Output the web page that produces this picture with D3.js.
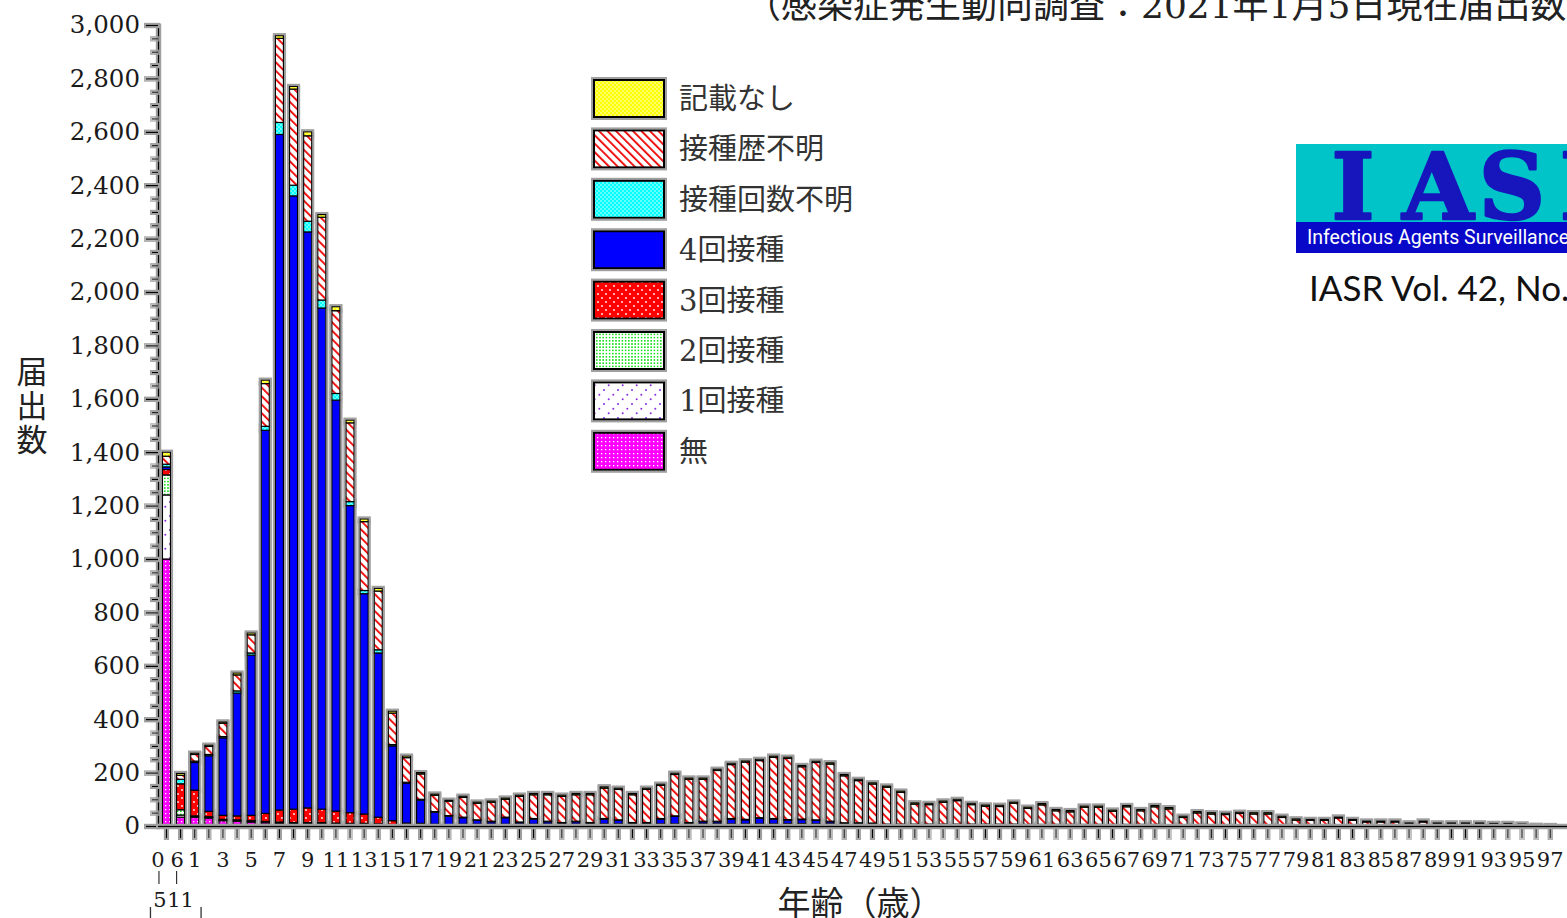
<!DOCTYPE html>
<html>
<head>
<meta charset="utf-8">
<script src="https://cdn.jsdelivr.net/npm/d3@7"></script>
<style>
  html, body { margin: 0; padding: 0; background: #fff; overflow: hidden; }
  svg { display: block; }
</style>
</head>
<body>
<svg id="chart" width="1567" height="918"></svg>
<script>
// ---- categories: 0-5 months, 6-11 months, then ages 1..97 ----
const monthGroups = ["0-5", "6-11"];
const yearGroups = d3.range(1, 98).map(String);
const categories = monthGroups.concat(yearGroups);

// ---- series values (cases), order: 0-5m, 6-11m, age 1 .. age 97 ----
const noVaccine = [1000, 33,
  33, 30, 20, 18, 15, 12, 10, 8, 8, 8, 6, 5, 5, 5, 3, 2, 2, 1, 1,
  2, 2, 2, 2, 2, 2, 2, 2, 2, 2,
  3, 3, 3, 3, 3, 3, 3, 3, 3, 3,
  3, 3, 3, 4, 4, 3, 3, 3, 3, 3,
  2, 2, 2, 2, 2, 2, 2, 2, 2, 2,
  2, 2, 2, 2, 2, 2, 2, 2, 2, 2,
  1, 1, 1, 1, 1, 1, 1, 1, 1, 1,
  1, 1, 1, 1, 1, 1, 1, 1, 1, 1,
  1, 1, 1, 1, 0, 0, 0, 0];

const oneDose = [240, 8,
  2, 2, 2, 2, 2, 2, 2, 2, 2, 2, 2, 2, 2, 1, 1, 0, 0, 0, 0,
  0, 0, 0, 0, 0, 0, 0, 0, 0, 0,
  0, 0, 0, 0, 0, 0, 0, 0, 0, 0,
  0, 0, 0, 0, 0, 0, 0, 0, 0, 0,
  0, 0, 0, 0, 0, 0, 0, 0, 0, 0,
  0, 0, 0, 0, 0, 0, 0, 0, 0, 0,
  0, 0, 0, 0, 0, 0, 0, 0, 0, 0,
  0, 0, 0, 0, 0, 0, 0, 0, 0, 0,
  0, 0, 0, 0, 0, 0, 0, 0];

const twoDoses = [75, 20,
  3, 3, 3, 3, 3, 3, 3, 3, 3, 3, 3, 3, 3, 2, 1, 1, 1, 1, 0,
  1, 1, 1, 1, 1, 1, 1, 1, 1, 1,
  1, 1, 1, 1, 1, 1, 1, 1, 1, 1,
  1, 1, 1, 1, 1, 1, 1, 1, 1, 1,
  1, 1, 1, 1, 1, 1, 1, 1, 1, 1,
  0, 0, 0, 0, 0, 0, 0, 0, 0, 0,
  0, 0, 0, 0, 0, 0, 0, 0, 0, 0,
  0, 0, 0, 0, 0, 0, 0, 0, 0, 0,
  0, 0, 0, 0, 0, 0, 0, 0];

const threeDoses = [20, 97,
  96, 20, 15, 15, 20, 30, 45, 50, 55, 50, 45, 40, 35, 25, 15, 8, 7, 5, 4,
  4, 4, 4, 4, 4, 4, 4, 4, 4, 4,
  4, 4, 4, 4, 4, 4, 4, 4, 4, 4,
  4, 4, 4, 4, 4, 4, 4, 4, 4, 4,
  3, 3, 3, 3, 3, 3, 3, 3, 3, 3,
  3, 3, 3, 3, 3, 3, 3, 3, 3, 3,
  2, 2, 2, 2, 2, 2, 2, 2, 2, 2,
  2, 2, 2, 2, 2, 2, 2, 2, 2, 2,
  1, 1, 1, 1, 0, 0, 0, 0];

const fourDoses = [10, 0,
  104, 208, 290, 460, 600, 1435, 2530, 2297, 2157, 1877, 1539, 1150, 825, 615, 280, 150, 87, 45, 32,
  24, 14, 9, 24, 6, 19, 9, 4, 9, 4,
  18, 13, 3, 3, 18, 28, 3, 8, 8, 18,
  15, 21, 18, 13, 15, 13, 8, 2, 2, 1,
  0, 0, 0, 0, 0, 0, 0, 0, 0, 0,
  0, 0, 0, 0, 0, 0, 0, 0, 0, 0,
  0, 0, 0, 0, 0, 0, 0, 0, 0, 0,
  0, 0, 0, 0, 0, 0, 0, 0, 0, 0,
  0, 0, 0, 0, 0, 0, 0, 0];

const dosesUnknown = [10, 17,
  5, 5, 5, 8, 8, 15, 45, 40, 40, 30, 25, 15, 12, 12, 5, 3, 3, 2, 2,
  2, 2, 2, 2, 2, 2, 2, 2, 2, 2,
  2, 2, 2, 2, 2, 2, 2, 2, 2, 2,
  2, 2, 2, 2, 2, 2, 2, 2, 2, 2,
  1, 1, 1, 1, 1, 1, 1, 1, 1, 1,
  1, 1, 1, 1, 1, 1, 1, 1, 1, 1,
  1, 1, 1, 1, 1, 1, 1, 1, 1, 1,
  1, 1, 1, 1, 1, 1, 1, 1, 1, 1,
  0, 0, 0, 0, 0, 0, 0, 0];

const historyUnknown = [30, 15,
  25, 30, 50, 60, 68, 160, 315, 360, 320, 310, 310, 295, 258, 220, 118, 92, 95, 61, 54,
  74, 62, 71, 67, 96, 89, 99, 98, 99, 104,
  114, 114, 104, 124, 124, 155, 162, 157, 190, 202,
  214, 214, 229, 229, 196, 215, 214, 176, 158, 146,
  138, 119, 75, 73, 82, 88, 73, 67, 66, 78,
  60, 73, 51, 47, 64, 64, 49, 66, 51, 66,
  60, 28, 45, 41, 39, 43, 41, 41, 28, 18,
  17, 17, 26, 17, 11, 11, 11, 4, 11, 4,
  7, 7, 7, 5, 7, 5, 1, 1];

const notRecorded = [15, 7,
  5, 5, 5, 7, 7, 13, 10, 10, 15, 10, 15, 10, 10, 10, 7, 6, 5, 5, 4,
  5, 5, 5, 5, 5, 5, 5, 5, 5, 5,
  5, 5, 5, 5, 5, 5, 5, 5, 5, 5,
  5, 5, 5, 5, 5, 5, 5, 5, 5, 5,
  5, 5, 5, 5, 5, 5, 5, 5, 5, 5,
  5, 5, 5, 5, 5, 5, 5, 5, 5, 5,
  5, 5, 5, 5, 5, 5, 5, 5, 5, 5,
  4, 4, 4, 4, 4, 4, 4, 4, 4, 4,
  3, 3, 3, 3, 3, 3, 2, 1];

// stack order, bottom to top
const seriesKeys = ["無", "1回接種", "2回接種", "3回接種", "4回接種", "接種回数不明", "接種歴不明", "記載なし"];
const seriesArrays = [noVaccine, oneDose, twoDoses, threeDoses, fourDoses, dosesUnknown, historyUnknown, notRecorded];
const seriesFills = ["url(#pMu)", "url(#pOne)", "url(#pTwo)", "url(#pThree)", "#0000ff", "url(#pCount)", "url(#pHist)", "url(#pNone)"];

// y-axis ticks
const yMajorTicks = [0, 200, 400, 600, 800, 1000, 1200, 1400, 1600, 1800, 2000, 2200, 2400, 2600, 2800, 3000];

// x-axis labels (first row / second row for month groups)
const monthLabelTop = ["0", "6"];
const monthLabelBottom = ["5", "11"];

// ---------------------------------------------------------------
const svg = d3.select("#chart");
const W = 1567, H = 918;

svg.append("rect").attr("width", W).attr("height", H).attr("fill", "#fff");

const defs = svg.append("defs");

// soft grey halo drawn around marks
const halo = defs.append("filter").attr("id", "halo")
  .attr("filterUnits", "userSpaceOnUse")
  .attr("x", -300).attr("y", -900).attr("width", W + 600).attr("height", H + 1800);
halo.append("feMorphology").attr("in", "SourceAlpha").attr("operator", "dilate").attr("radius", 1.6).attr("result", "d");
halo.append("feFlood").attr("flood-color", "#a0a0a0").attr("result", "c");
halo.append("feComposite").attr("in", "c").attr("in2", "d").attr("operator", "in").attr("result", "h");
halo.append("feGaussianBlur").attr("in", "h").attr("stdDeviation", 0.6).attr("result", "hb");
const hm = halo.append("feMerge");
hm.append("feMergeNode").attr("in", "hb");
hm.append("feMergeNode").attr("in", "SourceGraphic");

function pattern(id, w, h, bg, draw, transform) {
  const p = defs.append("pattern").attr("id", id)
    .attr("patternUnits", "userSpaceOnUse").attr("width", w).attr("height", h);
  if (transform) p.attr("patternTransform", transform);
  p.append("rect").attr("width", w).attr("height", h).attr("fill", bg);
  draw(p);
}
// 無: magenta with white dot grid
pattern("pMu", 4, 4, "#ff00ff", p => p.append("rect").attr("x", 1).attr("y", 1).attr("width", 1.3).attr("height", 1.3).attr("fill", "#fff"));
// 1回接種: white with purple dots on "/" diagonals
pattern("pOne", 14, 14, "#fff", p => {
  [[2, 12], [6.7, 7.3], [11.3, 2.7]].forEach(([cx, cy]) =>
    p.append("circle").attr("cx", cx).attr("cy", cy).attr("r", 1).attr("fill", "#8a2be2"));
});
// 2回接種: white with dense green dots
pattern("pTwo", 3.2, 3.2, "#fff", p => p.append("rect").attr("x", 0.8).attr("y", 0.8).attr("width", 1.6).attr("height", 1.6).attr("fill", "#1ee01e"));
// 3回接種: red with staggered white dots
pattern("pThree", 8, 8, "#ff0000", p => {
  [[2, 2], [6, 6]].forEach(([cx, cy]) =>
    p.append("circle").attr("cx", cx).attr("cy", cy).attr("r", 0.9).attr("fill", "#fff"));
});
// 接種回数不明: cyan with white lattice
pattern("pCount", 4, 4, "#00ffff", p => {
  [[1, 1], [3, 3]].forEach(([cx, cy]) =>
    p.append("circle").attr("cx", cx).attr("cy", cy).attr("r", 0.75).attr("fill", "#fff"));
});
// 接種歴不明: white with red "\" stripes
pattern("pHist", 6, 6, "#fff", p => p.append("rect").attr("x", 0).attr("y", 0).attr("width", 1.8).attr("height", 6).attr("fill", "#ee0000"), "rotate(-45)");
// 記載なし: yellow with white lattice
pattern("pNone", 4, 4, "#ffff00", p => {
  [[1, 1], [3, 3]].forEach(([cx, cy]) =>
    p.append("circle").attr("cx", cx).attr("cy", cy).attr("r", 0.75).attr("fill", "#fff"));
});

// ---- scales ----
const x = d3.scaleBand().domain(categories)
  .range([159.4, 1557.3]).paddingInner(0.43).paddingOuter(0.215);
const y = d3.scaleLinear().domain([0, 3000]).range([826, 25]);

// ---- stacked data ----
const table = categories.map((c, i) => {
  const row = { cat: c };
  seriesKeys.forEach((k, j) => { row[k] = seriesArrays[j][i]; });
  return row;
});
const stacked = d3.stack().keys(seriesKeys)(table);

// ---- bars ----
const barsG = svg.append("g").attr("filter", "url(#halo)");
stacked.forEach((layer, li) => {
  barsG.append("g")
    .selectAll("rect")
    .data(layer.filter(d => d[1] > d[0]))
    .join("rect")
    .attr("x", d => x(d.data.cat))
    .attr("y", d => y(d[1]))
    .attr("width", x.bandwidth())
    .attr("height", d => y(d[0]) - y(d[1]))
    .attr("fill", seriesFills[li])
    .attr("stroke", "#000")
    .attr("stroke-width", 1.2);
});

// ---- y axis ----
const serifNum = "'DejaVu Serif', 'Liberation Serif', serif";
const yAxisG = svg.append("g").attr("transform", "translate(158,0)");
yAxisG.call(d3.axisLeft(y).tickValues(yMajorTicks).tickFormat(d3.format(","))
  .tickSize(12).tickSizeOuter(0).tickPadding(6));
yAxisG.selectAll("text").attr("font-family", serifNum).attr("font-size", 24.5).attr("fill", "#1a1a1a");
yAxisG.selectAll("line, path").attr("stroke", "#000").attr("stroke-width", 1.4).attr("filter", "url(#halo)");

const yMinorG = svg.append("g").attr("transform", "translate(158,0)");
yMinorG.call(d3.axisLeft(y).tickValues(d3.range(0, 3001, 50).filter(v => v % 200 !== 0))
  .tickSize(6).tickSizeOuter(0).tickFormat(""));
yMinorG.select(".domain").remove();
yMinorG.selectAll("line").attr("stroke", "#000").attr("stroke-width", 1.2).attr("filter", "url(#halo)");

// ---- x axis ----
const xAxisG = svg.append("g").attr("transform", "translate(0,826)");
xAxisG.call(d3.axisBottom(x).tickSize(12).tickFormat(""));
xAxisG.select(".domain").remove();
xAxisG.selectAll("line").attr("stroke", "#000").attr("stroke-width", 1.2).attr("filter", "url(#halo)");
svg.append("line").attr("x1", 158).attr("x2", W).attr("y1", 826.5).attr("y2", 826.5)
  .attr("stroke", "#000").attr("stroke-width", 1.4).attr("filter", "url(#halo)");

const xc = c => x(c) + x.bandwidth() / 2;
const xLabels = svg.append("g").attr("font-family", serifNum).attr("font-size", 21)
  .attr("fill", "#1a1a1a").attr("text-anchor", "middle");
// first row: month groups start, then odd ages
xLabels.append("text").attr("x", xc("0-5") - 8.5).attr("y", 867).text(monthLabelTop[0]);
xLabels.append("text").attr("x", xc("6-11") - 3.5).attr("y", 867).text(monthLabelTop[1]);
yearGroups.filter(a => +a % 2 === 1).forEach(a => {
  xLabels.append("text").attr("x", xc(a)).attr("y", 867).text(a);
});
// second row: month group ends
xLabels.append("text").attr("x", xc("0-5") - 6.5).attr("y", 907).text(monthLabelBottom[0]);
xLabels.append("text").attr("x", xc("6-11")).attr("y", 907).text(monthLabelBottom[1]);
// range marks between the rows
[xc("0-5") - 7.5, xc("6-11") - 4].forEach(px => {
  svg.append("line").attr("x1", px).attr("x2", px).attr("y1", 871).attr("y2", 884)
    .attr("stroke", "#333").attr("stroke-width", 1.2);
});
// bracket below the month groups
svg.append("path")
  .attr("d", `M${xc("0-5") - 16},907 V930 H${xc("6-11") + 20.5} V907`)
  .attr("fill", "none").attr("stroke", "#333").attr("stroke-width", 1.3);

// ---- axis titles ----
const cjk = "'DejaVu Serif', 'Noto Sans CJK JP', sans-serif";
svg.append("text").attr("x", 860).attr("y", 915).attr("text-anchor", "middle")
  .attr("font-family", cjk).attr("font-size", 33).attr("fill", "#222").text("年齢（歳）");
const yTitle = svg.append("text").attr("font-family", cjk).attr("font-size", 31).attr("fill", "#222")
  .attr("text-anchor", "middle");
["届", "出", "数"].forEach((ch, i) => {
  yTitle.append("tspan").attr("x", 32).attr("y", 383 + i * 34).text(ch);
});

// ---- top note ----
svg.append("text").attr("x", 745).attr("y", 18)
  .attr("font-family", cjk).attr("font-size", 36).attr("fill", "#222")
  .text("（感染症発生動向調査：2021年1月5日現在届出数）");

// ---- legend (top entry = top of stack) ----
const legend = svg.append("g");
const legendOrder = d3.range(seriesKeys.length).reverse();
legendOrder.forEach((si, row) => {
  const ly = 80 + row * 50.4;
  legend.append("rect").attr("x", 594).attr("y", ly).attr("width", 70).attr("height", 37)
    .attr("fill", seriesFills[si]).attr("stroke", "#000").attr("stroke-width", 2)
    .attr("filter", "url(#halo)");
  legend.append("text").attr("x", 679).attr("y", ly + 29)
    .attr("font-family", cjk).attr("font-size", 29).attr("fill", "#333")
    .text(seriesKeys[si]);
});

// ---- IASR banner ----
const logo = svg.append("g");
logo.append("rect").attr("x", 1296).attr("y", 144).attr("width", 300).attr("height", 79).attr("fill", "#00c4c8");
logo.append("rect").attr("x", 1296).attr("y", 222).attr("width", 300).attr("height", 31).attr("fill", "#0808c8");
[["I", 1353], ["A", 1438], ["S", 1512], ["R", 1598]].forEach(([ch, cx]) => {
  logo.append("text").attr("x", cx).attr("y", 219).attr("text-anchor", "middle")
    .attr("font-family", "'DejaVu Serif', serif").attr("font-weight", "bold")
    .attr("font-size", 92).attr("fill", "#1616bc")
    .attr("stroke", "#1616bc").attr("stroke-width", 2.5).attr("stroke-linejoin", "round")
    .text(ch);
});
logo.append("text").attr("x", 1307).attr("y", 244)
  .attr("font-family", "Roboto, 'Open Sans', sans-serif").attr("font-size", 19.5).attr("fill", "#fff")
  .text("Infectious Agents Surveillance");
svg.append("text").attr("x", 1309).attr("y", 301)
  .attr("font-family", "Lato, 'Open Sans', sans-serif").attr("font-size", 35).attr("fill", "#111")
  .text("IASR Vol. 42, No.");
</script>
</body>
</html>
